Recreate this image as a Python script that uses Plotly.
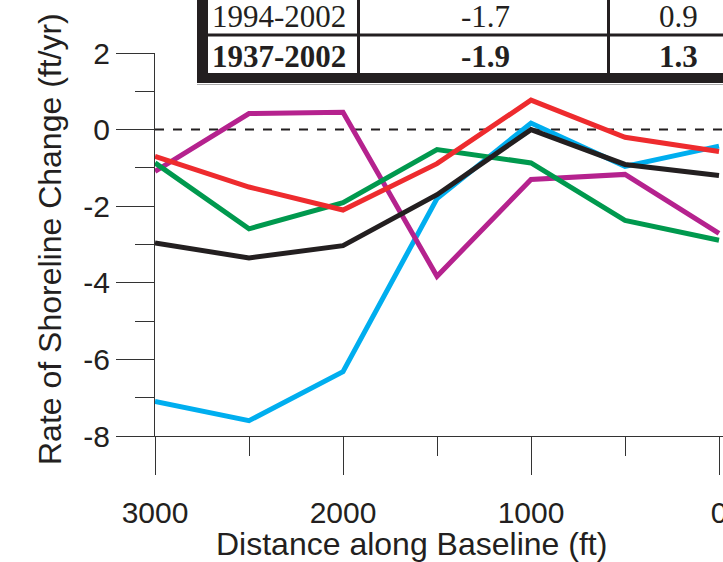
import plotly.graph_objects as go

# ---- data ----
distance = [3000, 2500, 2000, 1500, 1000, 500, 0]
cyan_vals = [-7.10, -7.60, -6.32, -1.80, 0.17, -0.96, -0.43]
magenta_vals = [-1.09, 0.42, 0.45, -3.83, -1.30, -1.17, -2.71]
red_vals = [-0.70, -1.50, -2.10, -0.89, 0.77, -0.20, -0.57]
green_vals = [-0.87, -2.59, -1.91, -0.52, -0.87, -2.37, -2.89]
black_vals = [-2.96, -3.35, -3.03, -1.70, 0.0, -0.91, -1.20]

x_major = [3000, 2000, 1000, 0]
x_minor = [2500, 1500, 500]
y_major = [-8, -6, -4, -2, 0, 2]
y_minor = [-7, -5, -3, -1, 1]

table_rows = [["1994-2002", "-1.7", "0.9"], ["1937-2002", "-1.9", "1.3"]]

W, H = 723, 562
L, R, T = 155, 0, 53
B = H - 436
pw, ph = W - L - R, H - T - B

def px(x):
    return (x - L) / pw

def py(y):
    return (H - B - y) / ph

fig = go.Figure()
series = [
    (cyan_vals, "#00AEEF"),
    (magenta_vals, "#B5228E"),
    (green_vals, "#00994E"),
    (red_vals, "#EE2B2E"),
    (black_vals, "#231F20"),
]
for vals, col in series:
    fig.add_trace(go.Scatter(x=distance, y=vals, mode="lines",
                             line=dict(color=col, width=5), showlegend=False,
                             hoverinfo="skip"))

axcol = "#333333"
tickfont = dict(family="Liberation Sans, Arial, sans-serif", size=30, color="#231F20")
x_right = -4 * 3000 / 564.0

fig.update_layout(
    width=W, height=H,
    margin=dict(l=L, r=R, t=T, b=B, autoexpand=False),
    paper_bgcolor="white", plot_bgcolor="white",
    xaxis=dict(range=[3000, x_right], tickvals=x_major, ticktext=[str(v) for v in x_major],
               ticks="outside", ticklen=38, tickwidth=1, tickcolor=axcol,
               showline=True, linecolor=axcol, linewidth=1, showgrid=False, zeroline=False,
               tickfont=tickfont, automargin=False, ticklabelstandoff=12,
               ticklabeloverflow="allow",
               minor=dict(tickvals=x_minor, ticks="outside", ticklen=19, tickwidth=1,
                          tickcolor=axcol, showgrid=False)),
    yaxis=dict(range=[-8, 2], tickvals=y_major, ticktext=[str(v) for v in y_major],
               ticks="outside", ticklen=38, tickwidth=1, tickcolor=axcol,
               showline=True, linecolor=axcol, linewidth=1, showgrid=False, zeroline=False,
               tickfont=tickfont, automargin=False, ticklabeloverflow="allow",
               minor=dict(tickvals=y_minor, ticks="outside", ticklen=19, tickwidth=1,
                          tickcolor=axcol, showgrid=False)),
)

# zero reference line
fig.add_shape(type="line", xref="paper", yref="y", x0=0, x1=1, y0=0, y1=0,
              line=dict(color="#231F20", width=2, dash="dash"), layer="below")

# table (cropped at top of figure)
shapes = [
    dict(type="rect", x0=px(197), x1=px(760), y0=py(83), y1=py(-30),
         fillcolor="#231F20", line=dict(width=0)),
    dict(type="rect", x0=px(208), x1=px(760), y0=py(73), y1=py(-30),
         fillcolor="white", line=dict(width=0)),
    dict(type="line", x0=px(208), x1=px(760), y0=py(35), y1=py(35),
         line=dict(color="#231F20", width=3)),
    dict(type="line", x0=px(358.5), x1=px(358.5), y0=py(73), y1=py(-30),
         line=dict(color="#231F20", width=3)),
    dict(type="line", x0=px(608.5), x1=px(608.5), y0=py(73), y1=py(-30),
         line=dict(color="#231F20", width=3)),
    dict(type="line", x0=px(197), x1=px(760), y0=py(84.5), y1=py(84.5),
         line=dict(color="#AAAAAA", width=1)),
]
for s in shapes:
    s.update(xref="paper", yref="paper", layer="above")
    fig.add_shape(**s)

col_x = [279, 485, 678]
row_y = [17, 56]
for r, row in enumerate(table_rows):
    for c, txt in enumerate(row):
        t = f"<b>{txt}</b>" if r == 1 else txt
        fig.add_annotation(x=px(col_x[c]), y=py(row_y[r]), xref="paper", yref="paper",
                           text=t, showarrow=False, xanchor="center", yanchor="middle",
                           font=dict(family="Liberation Serif, Times New Roman, serif",
                                     size=31, color="#231F20"))

# axis titles
fig.add_annotation(x=px(411), y=py(544), xref="paper", yref="paper",
                   text="Distance along Baseline (ft)", showarrow=False,
                   xanchor="center", yanchor="middle",
                   font=dict(family="Liberation Sans, Arial, sans-serif", size=32, color="#231F20"))
fig.add_annotation(x=px(50), y=py(239), xref="paper", yref="paper",
                   text="Rate of Shoreline Change (ft/yr)", showarrow=False, textangle=-90,
                   xanchor="center", yanchor="middle",
                   font=dict(family="Liberation Sans, Arial, sans-serif", size=32, color="#231F20"))

fig.write_html("out.html", config={"displayModeBar": False},
               post_script="document.body.style.margin='0';")
